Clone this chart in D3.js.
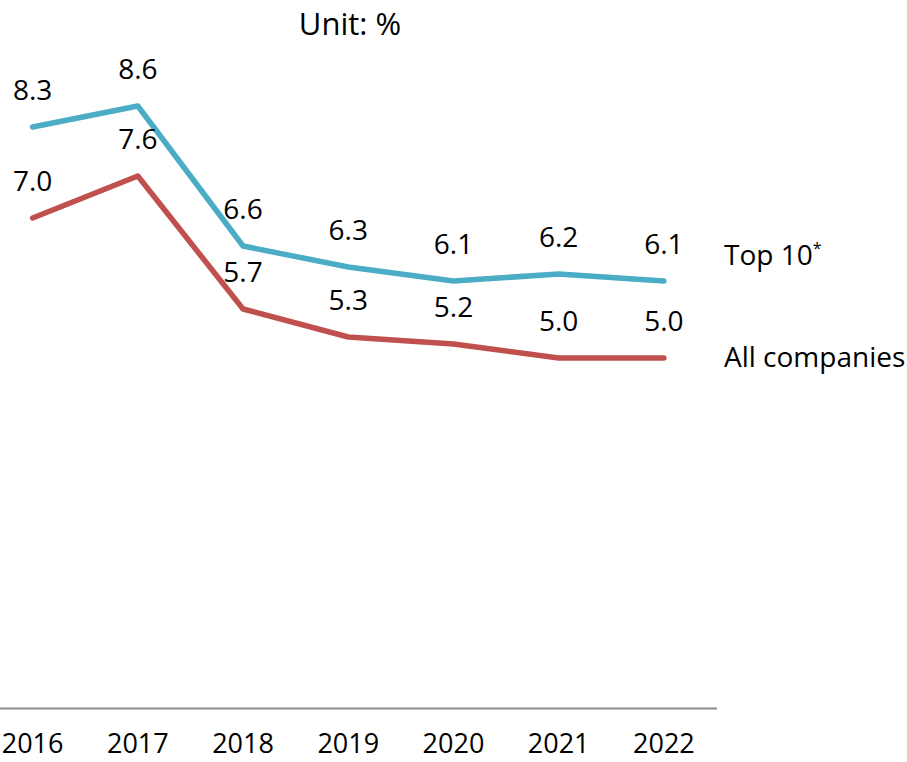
<!DOCTYPE html>
<html>
<head>
<meta charset="utf-8">
<script src="https://cdn.jsdelivr.net/npm/d3@7"></script>
<style>
    body { margin: 0; background: #fff; }
    svg text { font-family: "Open Sans", sans-serif; fill: #000; }
</style>
</head>
<body>
<svg id="chart" width="907" height="762"></svg>
<script>
// data
var years = ["2016", "2017", "2018", "2019", "2020", "2021", "2022"];
var top10 = [8.3, 8.6, 6.6, 6.3, 6.1, 6.2, 6.1];
var allCompanies = [7.0, 7.6, 5.7, 5.3, 5.2, 5.0, 5.0];
var seriesNames = ["Top 10", "All companies"];
var unitLabel = "Unit: %";

var svg = d3.select("#chart");

// plot area is cropped on the left, like the original
var x = d3.scaleBand().domain(years).range([-20, 716.5]);
var y = d3.scaleLinear().domain([0, 10]).range([708, 8]);

var cx = d => x(d) + x.bandwidth() / 2;

// category axis
var axis = d3.axisBottom(x).tickSize(0).tickPadding(26);
var gx = svg.append("g")
    .attr("transform", "translate(0," + y(0) + ")")
    .call(axis);
gx.select(".domain").attr("stroke", "#8c8c8c").attr("stroke-width", 2);
gx.selectAll(".tick text")
    .style("font-size", "27px")
    .attr("fill", "#000");

var series = [
    { name: seriesNames[0], values: top10, color: "#4bacc6" },
    { name: seriesNames[1], values: allCompanies, color: "#c0504d" }
];

var line = d3.line()
    .x((d, i) => cx(years[i]))
    .y(d => y(d));

series.forEach(function(s) {
    svg.append("path")
        .datum(s.values)
        .attr("fill", "none")
        .attr("stroke", s.color)
        .attr("stroke-width", 5.5)
        .attr("stroke-linejoin", "round")
        .attr("stroke-linecap", "round")
        .attr("d", line);

    svg.append("g").selectAll("text")
        .data(s.values)
        .enter()
        .append("text")
        .attr("x", (d, i) => cx(years[i]))
        .attr("y", d => y(d) - 27)
        .attr("text-anchor", "middle")
        .style("font-size", "28px")
        .text(d => d.toFixed(1));
});

// series names at the right end
var top10Label = svg.append("text")
    .attr("x", 724)
    .attr("y", 265)
    .style("font-size", "28px")
    .text(seriesNames[0]);
top10Label.append("tspan")
    .attr("dy", -11)
    .style("font-size", "16px")
    .text("*");

svg.append("text")
    .attr("x", 724)
    .attr("y", 367)
    .style("font-size", "28px")
    .text(seriesNames[1]);

svg.append("text")
    .attr("x", 350)
    .attr("y", 35)
    .attr("text-anchor", "middle")
    .style("font-size", "31px")
    .text(unitLabel);
</script>
</body>
</html>
